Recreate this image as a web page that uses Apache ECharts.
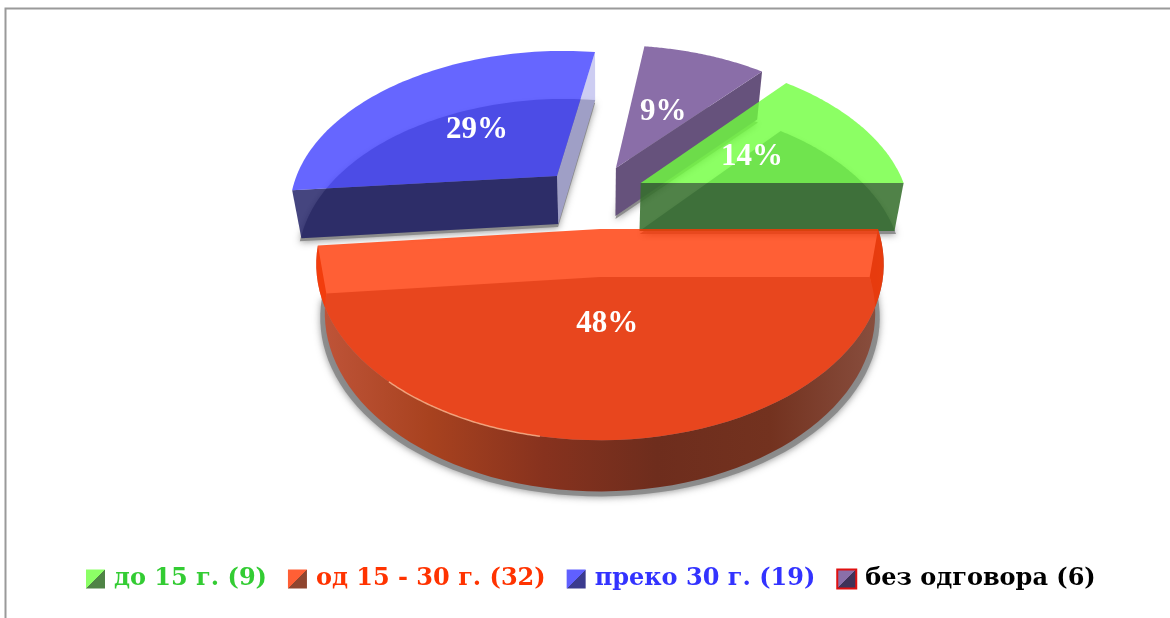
<!DOCTYPE html>
<html><head><meta charset="utf-8">
<style>html,body{margin:0;padding:0;background:#fff}#c{width:1170px;height:618px}</style>
<script src="https://cdn.jsdelivr.net/npm/echarts@6/dist/echarts.min.js"></script>
</head><body><div id="c"></div>
<script>
// ---- data ----
const categories = ['до 15 г.', 'од 15 - 30 г.', 'преко 30 г.', 'без одговора'];
const counts = [9, 32, 19, 6];
const percents = [14, 48, 29, 9];

// ---- look ----
const FONT = '"Liberation Serif", serif';
const LEGEND_FONT = '"DejaVu Serif", serif';
const legendColors = ['#33cc33', '#ff3300', '#3333ff', '#000000'];
const cam = { cx: 600, cy: 229, R: 278, Rp: 169, k: 0.2, depth: 48, shrink: 0.97, labelR: 0.49, labelDy: 3.5 };
const explode = [[0.155, -0.288], [0, 0], [-0.165, -0.335], [0.0616, -0.389]];
const drawOrder = [2, 3, 0, 1];
const looks = [
  { top: 'rgba(111,255,61,0.8)', under: 'rgb(115,120,145)',
    walls: [['end', 'rgba(54,111,45,0.87)']], icon: ['#8cff66', '#4f8346'] },
  { top: 'rgba(255,55,2,0.8)', under: 'rgb(140,130,140)',
    arc: ['#c0553a', '#a8421f', '#87321e', '#6e2d1d', '#73321f', '#8a5040'],
    rim: [100, 130], icon: ['#ff5f35', '#8f452f'] },
  { top: 'rgba(64,64,255,0.8)', under: 'rgb(125,125,130)',
    walls: [['start', 'rgba(27,27,98,0.815)'], ['end', 'rgba(178,178,235,0.65)']], icon: ['#6060ff', '#3b3b8f'] },
  { top: 'rgb(138,110,168)', under: null,
    walls: [['end', 'rgb(102,82,124)']], icon: ['#8a6fa8', '#3f3258'], border: '#e01010' }
];

// ---- geometry from the values ----
const total = counts.reduce((a, b) => a + b, 0);
const startAngle = -counts[0] / total * 360;
const spans = [];
counts.reduce((acc, v) => { const s = v / total * 360; spans.push([acc, acc + s]); return acc + s; }, startAngle);

function project(X, Y) {
  const d = 1 - cam.k * Y;
  return [cam.cx + cam.R * X / d, cam.cy + cam.Rp * Y / d];
}
function drop(p, extra, shrink) {
  const s = shrink || cam.shrink;
  const depth = cam.depth + Math.max(0, p[1] - cam.cy) * 0.015;
  return [cam.cx + (p[0] - cam.cx) * s, p[1] + depth + (extra || 0)];
}
function rimPoints(i, a0, a1) {
  const n = 72, pts = [], o = explode[i];
  for (let j = 0; j <= n; j++) {
    const a = (a0 + (a1 - a0) * j / n) * Math.PI / 180;
    pts.push(project(o[0] + Math.cos(a), o[1] + Math.sin(a)));
  }
  return pts;
}
function poly(points, style, z2) {
  return { type: 'polygon', shape: { points }, style: Object.assign({ stroke: 'none' }, style), z2: z2 || 0, silent: true };
}
function renderSlice(params, api) {
  const i = api.value(1), look = looks[i], o = explode[i];
  const sweep = api.value(0) / total * 360;
  const a0 = spans[i][0], a1 = a0 + sweep;
  const rim = rimPoints(i, a0, a1);
  const apex = project(o[0], o[1]);
  const face = [apex].concat(rim);
  const lower = face.map(p => drop(p));
  const kids = [];
  // soft shadow under the slice
  kids.push(poly(face.map(p => drop(p, i === 1 ? 5 : 3, i === 1 ? 0.986 : 0.975)), {
    fill: 'rgba(135,135,135,0.9)', shadowBlur: 7, shadowColor: 'rgba(130,130,130,0.9)', shadowOffsetY: 1
  }));
  if (look.under) kids.push(poly(lower, { fill: look.under }));
  if (look.arc) {
    const stops = look.arc.map((c, j) => ({ offset: j / (look.arc.length - 1), color: c }));
    kids.push(poly(rim.concat(rim.map(p => drop(p)).reverse()), {
      fill: new echarts.graphic.LinearGradient(0, 0, 1, 0, stops)
    }));
  }
  (look.walls || []).forEach(w => {
    const edge = w[0] === 'start' ? rim[0] : rim[rim.length - 1];
    kids.push(poly([apex, edge, drop(edge), drop(apex)], { fill: w[1] }));
  });
  kids.push(poly(face, { fill: look.top }));
  if (look.rim) {
    kids.push({ type: 'polyline', silent: true, shape: { points: rimPoints(i, look.rim[0], look.rim[1]) },
      style: { stroke: 'rgba(255,190,150,0.75)', lineWidth: 1.5, fill: 'none' } });
  }
  const mid = (a0 + a1) / 2 * Math.PI / 180;
  const lp = project(o[0] + cam.labelR * Math.cos(mid), o[1] + cam.labelR * Math.sin(mid));
  kids.push({ type: 'text', x: lp[0], y: lp[1] + cam.labelDy, z2: 50, silent: true, style: {
    text: percents[i] + '%', fill: '#ffffff', font: 'bold 31px ' + FONT, align: 'center', verticalAlign: 'middle'
  } });
  return { type: 'group', children: kids };
}

const names = categories.map((c, i) => c + ' (' + counts[i] + ')');
const chart = echarts.init(document.getElementById('c'), null, { renderer: 'canvas' });
chart.setOption({
  animation: false,
  backgroundColor: '#ffffff',
  graphic: [{ type: 'polyline', silent: true, shape: { points: [[5.5, 618], [5.5, 8.5], [1170, 8.5]] },
    style: { stroke: '#9a9a9a', lineWidth: 2, fill: 'none' } }],
  legend: {
    left: 81, top: 562, width: 1085, itemGap: 21, itemWidth: 19, itemHeight: 19, icon: 'rect', selectedMode: false,
    data: names.map((n, i) => ({
      name: n,
      itemStyle: {
        color: new echarts.graphic.LinearGradient(0, 0, 1, 1, [
          { offset: 0, color: looks[i].icon[0] }, { offset: 0.5, color: looks[i].icon[0] },
          { offset: 0.5, color: looks[i].icon[1] }, { offset: 1, color: looks[i].icon[1] }]),
        borderColor: looks[i].border || 'transparent', borderWidth: looks[i].border ? 2 : 0
      },
      textStyle: { color: legendColors[i], fontFamily: LEGEND_FONT, fontWeight: 'bold', fontSize: 24, padding: [0, 0, 0, 4] }
    }))
  },
  series: drawOrder.map(i => ({
    type: 'custom', name: names[i], coordinateSystem: 'none', renderItem: renderSlice,
    data: [[counts[i], i]], itemStyle: { color: looks[i].icon[0] }
  }))
});
</script></body></html>
